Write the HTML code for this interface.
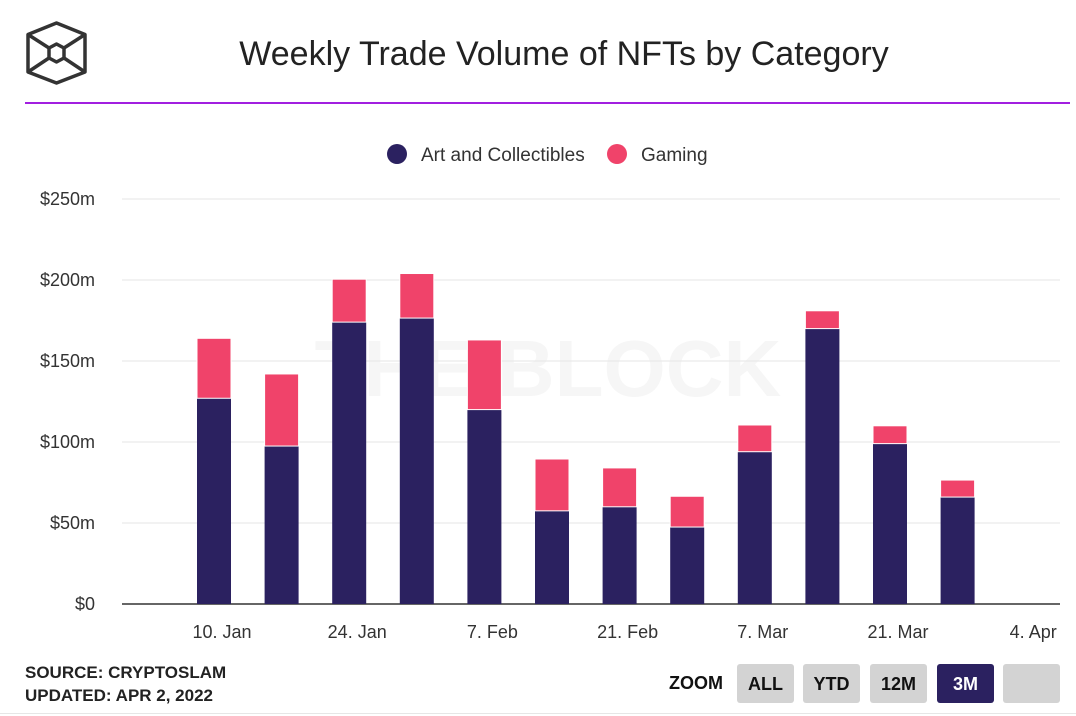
<!DOCTYPE html>
<html><head><meta charset="utf-8"><style>
body{margin:0;width:1076px;height:716px;background:#fff;font-family:"Liberation Sans",sans-serif;overflow:hidden;position:relative}
.btn{position:absolute;top:664px;width:57px;height:39px;background:#d3d3d3;border-radius:3px;font:bold 18px "Liberation Sans",sans-serif;text-align:center;line-height:40px;color:#111}
</style></head><body>
<svg width="100" height="100" style="position:absolute;left:0;top:0">
<g fill="none" stroke="#333" stroke-width="3.5" stroke-linejoin="round">
<polygon points="56.5,23 85,34.5 85,72 56.5,83 28,72 28,34.5"/>
<polygon points="56.5,44 64,48 64,58 56.5,62 49,58 49,48"/>
<line x1="28" y1="34.5" x2="49" y2="48"/><line x1="85" y1="34.5" x2="64" y2="48"/>
<line x1="28" y1="72" x2="49" y2="58"/><line x1="85" y1="72" x2="64" y2="58"/>
</g></svg>
<div style="position:absolute;left:0;width:1128px;top:35px;text-align:center;font-size:34px;color:#222">Weekly Trade Volume of NFTs by Category</div>
<div style="position:absolute;left:25px;width:1045px;top:102px;height:2px;background:#a21fe0"></div>
<svg id="chart" width="1076" height="650" style="position:absolute;left:0;top:0"></svg>
<div style="position:absolute;left:25px;top:663px;font:bold 17px 'Liberation Sans',sans-serif;color:#222">SOURCE: CRYPTOSLAM</div>
<div style="position:absolute;left:25px;top:686px;font:bold 17px 'Liberation Sans',sans-serif;color:#222">UPDATED: APR 2, 2022</div>
<div style="position:absolute;left:669px;top:673px;font:bold 18px 'Liberation Sans',sans-serif;color:#111">ZOOM</div>
<div class="btn" style="left:737px">ALL</div>
<div class="btn" style="left:803px">YTD</div>
<div class="btn" style="left:870px">12M</div>
<div class="btn" style="left:937px;background:#2b2160;color:#fff">3M</div>
<div class="btn" style="left:1003px"></div>
<div style="position:absolute;left:0;width:1076px;top:713px;height:1px;background:#e6e6e6"></div>
<script>
const categories=["Jan 9","Jan 16","Jan 23","Jan 30","Feb 6","Feb 13","Feb 20","Feb 27","Mar 6","Mar 13","Mar 20","Mar 27"];
const artValues=[127,97.5,174,176.5,120,57.5,60,47.5,94,170,99,66];
const gamingValues=[37,44.5,26.5,27.5,43,32,24,19,16.5,11,11,10.5];
const yTicks=[0,50,100,150,200,250];
const yTickLabels=["$0","$50m","$100m","$150m","$200m","$250m"];
const xTickLabels=["10. Jan","24. Jan","7. Feb","21. Feb","7. Mar","21. Mar","4. Apr"];
const NS="http://www.w3.org/2000/svg",svg=document.getElementById('chart');
const y=v=>604-v*1.62, bx=i=>214+i*67.6, tx=i=>222+i*135.2;
function mk(t,a,p){const e=document.createElementNS(NS,t);for(const k in a)e.setAttribute(k,a[k]);(p||svg).appendChild(e);return e;}
mk('text',{x:548,y:396,'font-size':80,'font-weight':'bold',fill:'#f6f6f6','text-anchor':'middle','font-family':'Liberation Sans'}).textContent="THE BLOCK";
yTicks.forEach((v,i)=>{
 const l=mk('line',{x1:122,x2:1060,y1:y(v),y2:y(v),stroke:v?'#e6e6e6':'#333','stroke-width':v?1:1.5});
 
 
 const t=mk('text',{x:95,y:y(v)+6,'text-anchor':'end','font-size':18,fill:'#333','font-family':'Liberation Sans'});
 t.textContent=yTickLabels[i];
 
 
});
xTickLabels.forEach((s,i)=>{
 const t=mk('text',{x:tx(i),y:638,'text-anchor':'middle','font-size':18,fill:'#333','font-family':'Liberation Sans'});
 t.textContent=s;
 
 
});
categories.forEach((c,i)=>{
 const a=artValues[i],g=gamingValues[i];
 const r1=mk('rect',{x:bx(i)-17,y:y(a),width:34,height:y(0)-y(a),fill:'#2b2160'});
 
 
 const r2=mk('rect',{x:bx(i)-17,y:y(a+g),width:34,height:y(a)-y(a+g),fill:'#f0436a',stroke:'#fff','stroke-width':1});
 
 
});
const leg=[["Art and Collectibles","#2b2160",397],["Gaming","#f0436a",617]];
leg.forEach(([n,c,x])=>{
 const g=mk('g',{});
 
 
 mk('circle',{cx:x,cy:154,r:10,fill:c},g);
 const t=mk('text',{x:x+24,y:161,'font-size':19,fill:'#333','font-family':'Liberation Sans'},g);t.textContent=n;
});
</script>
</body></html>
